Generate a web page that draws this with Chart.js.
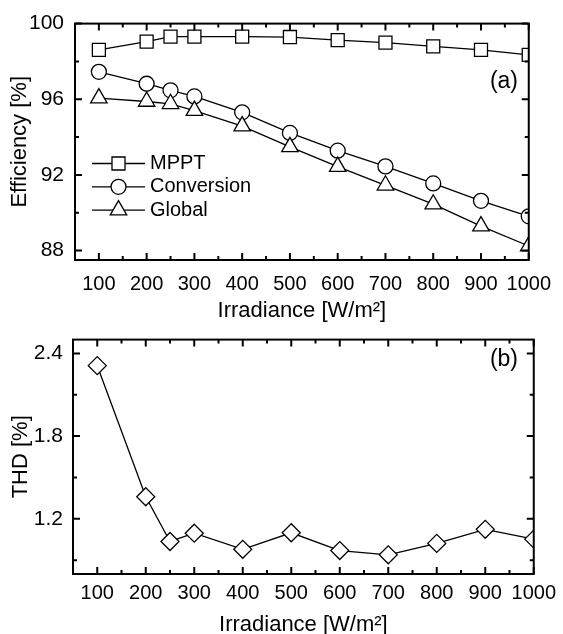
<!DOCTYPE html>
<html>
<head>
<meta charset="utf-8">
<script src="https://cdn.jsdelivr.net/npm/chart.js@4.4.1/dist/chart.umd.min.js"></script>
<style>
    html, body { margin: 0; padding: 0; background: #fff; }
    #wrap { position: relative; width: 563px; height: 634px; overflow: hidden; }
    .panel { position: absolute; left: 0; }
</style>
</head>
<body>
<div id="wrap">
    <canvas id="effChart" class="panel" style="top:0" width="563" height="322"></canvas>
    <canvas id="thdChart" class="panel" style="top:317px" width="563" height="320"></canvas>
</div>
<script>
// values
const irradiance = [100, 200, 250, 300, 400, 500, 600, 700, 800, 900, 1000];
const mpptEff = [98.61, 99.05, 99.31, 99.31, 99.31, 99.29, 99.13, 98.99, 98.80, 98.61, 98.35];
const conversionEff = [97.45, 96.82, 96.47, 96.15, 95.31, 94.22, 93.28, 92.45, 91.55, 90.63, 89.81];
const globalEff = [96.06, 95.88, 95.76, 95.40, 94.58, 93.48, 92.44, 91.45, 90.45, 89.29, 88.24];
const thd = [2.311, 1.360, 1.036, 1.096, 0.979, 1.099, 0.970, 0.939, 1.022, 1.124, 1.053];

// tick labels
const xTickLabels = [100, 200, 300, 400, 500, 600, 700, 800, 900, 1000];
const xMinorTicks = [150, 250, 350, 450, 550, 650, 750, 850, 950];
const effTickLabels = [88, 92, 96, 100];
const effMinorTicks = [90, 94, 98];
const thdTickLabels = [1.2, 1.8, 2.4];
const thdMinorTicks = [0.9, 1.5, 2.1];

const FONT = "'Liberation Sans', Arial, sans-serif";

const toPoints = vals => vals.map((v, i) => ({x: irradiance[i], y: v}));

// box around the plot with inward ticks on all four sides
const framePlugin = {
    id: 'frame',
    afterDatasetsDraw(chart, args, opts) {
        const {ctx, chartArea: a} = chart;
        const xs = chart.scales.x, ys = chart.scales.y;
        ctx.save();
        ctx.strokeStyle = '#000';
        ctx.lineWidth = 2;
        ctx.beginPath();
        const xTick = (v, len) => {
            const px = xs.getPixelForValue(v);
            ctx.moveTo(px, a.bottom); ctx.lineTo(px, a.bottom - len);
            ctx.moveTo(px, a.top); ctx.lineTo(px, a.top + len);
        };
        const yTick = (v, len) => {
            const py = ys.getPixelForValue(v);
            ctx.moveTo(a.left, py); ctx.lineTo(a.left + len, py);
            ctx.moveTo(a.right, py); ctx.lineTo(a.right - len, py);
        };
        opts.xMajor.forEach(v => xTick(v, 7));
        opts.xMinor.forEach(v => xTick(v, 4));
        opts.yMajor.forEach(v => yTick(v, 7));
        opts.yMinor.forEach(v => yTick(v, 4));
        ctx.stroke();
        ctx.strokeRect(a.left, a.top, a.right - a.left, a.bottom - a.top);
        ctx.restore();
    }
};

// legend drawn inside the plot: line - marker - line, then label
const insideLegend = {
    id: 'insideLegend',
    afterDraw(chart, args, opts) {
        if (!opts.show) return;
        const ctx = chart.ctx;
        ctx.save();
        chart.data.datasets.forEach((ds, i) => {
            const y = opts.top + i * opts.rowGap;
            const mid = opts.left + opts.lineLen / 2;
            ctx.strokeStyle = '#000';
            ctx.lineWidth = ds.borderWidth;
            ctx.beginPath();
            ctx.moveTo(opts.left, y);
            ctx.lineTo(opts.left + opts.lineLen, y);
            ctx.stroke();
            ctx.fillStyle = '#fff';
            ctx.lineWidth = ds.pointBorderWidth;
            Chart.helpers.drawPoint(ctx, {pointStyle: ds.pointStyle, radius: ds.pointRadius, borderWidth: ds.pointBorderWidth, rotation: 0}, mid, y);
            ctx.fillStyle = '#000';
            ctx.font = '20px ' + FONT;
            ctx.textBaseline = 'middle';
            ctx.textAlign = 'left';
            ctx.fillText(ds.label, opts.left + opts.lineLen + opts.gap, y);
        });
        ctx.restore();
    }
};

// "(a)" / "(b)" tag
const panelTag = {
    id: 'panelTag',
    afterDraw(chart, args, opts) {
        const ctx = chart.ctx;
        ctx.save();
        ctx.fillStyle = '#000';
        ctx.font = '23px ' + FONT;
        ctx.textAlign = 'right';
        ctx.textBaseline = 'middle';
        ctx.fillText(opts.text, opts.x, opts.y);
        ctx.restore();
    }
};

function seriesStyle(label, data, style, radius, order) {
    return {
        label: label,
        data: toPoints(data),
        borderColor: '#000',
        borderWidth: 1.3,
        pointStyle: style,
        pointRadius: radius,
        pointHoverRadius: radius,
        pointBackgroundColor: '#fff',
        pointBorderColor: '#000',
        pointBorderWidth: 1.3,
        tension: 0,
        clip: 0,
        order: order
    };
}

function axisOptions(cfg) {
    return {
        x: {
            type: 'linear',
            min: 50,
            max: 1000,
            afterBuildTicks: s => { s.ticks = xTickLabels.map(v => ({value: v})); },
            afterFit: s => { s.height = cfg.xHeight; },
            grid: {display: false, drawTicks: false},
            border: {display: false},
            ticks: {color: '#000', font: {family: FONT, size: 20}, padding: cfg.xPad, autoSkip: false, maxRotation: 0, callback: v => String(v)},
            title: {display: true, text: 'Irradiance [W/m²]', color: '#000', font: {family: FONT, size: 22, lineHeight: 1}, padding: {top: 0, bottom: cfg.titlePad}}
        },
        y: {
            type: 'linear',
            min: cfg.yMin,
            max: cfg.yMax,
            afterBuildTicks: s => { s.ticks = cfg.yTicks.map(v => ({value: v})); },
            afterFit: s => { s.width = cfg.yWidth; },
            grid: {display: false, drawTicks: false},
            border: {display: false},
            ticks: {color: '#000', font: {family: FONT, size: 21}, padding: cfg.yPad, callback: cfg.yFmt},
            title: {display: true, text: cfg.yTitle, color: '#000', font: {family: FONT, size: 22, lineHeight: 1}, padding: {top: cfg.yTitlePad, bottom: 0}}
        }
    };
}

// (a) efficiency
new Chart(document.getElementById('effChart'), {
    type: 'line',
    data: {
        datasets: [
            seriesStyle('MPPT', mpptEff, 'rect', 9.2, 2),
            seriesStyle('Conversion', conversionEff, 'circle', 7.5, 1),
            seriesStyle('Global', globalEff, 'triangle', 9.5, 0)
        ]
    },
    options: {
        responsive: false,
        animation: false,
        layout: {padding: {left: 0, top: 20, right: 26, bottom: 0}},
        scales: axisOptions({
            xHeight: 62, xPad: 12, titlePad: 0,
            yMin: 87.5, yMax: 100, yTicks: effTickLabels, yWidth: 75, yPad: 11,
            yFmt: v => String(v), yTitle: 'Efficiency [%]', yTitlePad: 9
        }),
        plugins: {
            legend: {display: false},
            tooltip: {enabled: false},
            frame: {xMajor: xTickLabels, xMinor: xMinorTicks, yMajor: effTickLabels, yMinor: effMinorTicks},
            insideLegend: {show: true, left: 92, top: 163.5, rowGap: 23.3, lineLen: 53, gap: 5},
            panelTag: {text: '(a)', x: 518, y: 82}
        }
    },
    plugins: [framePlugin, insideLegend, panelTag]
});

// (b) THD
new Chart(document.getElementById('thdChart'), {
    type: 'line',
    data: {
        datasets: [
            seriesStyle('THD', thd, 'rectRot', 9, 0)
        ]
    },
    options: {
        responsive: false,
        animation: false,
        layout: {padding: {left: 0, top: 17, right: 27, bottom: 0}},
        scales: axisOptions({
            xHeight: 63, xPad: 7, titlePad: 1,
            yMin: 0.8, yMax: 2.5, yTicks: thdTickLabels, yWidth: 73, yPad: 10,
            yFmt: v => v.toFixed(1), yTitle: 'THD [%]', yTitlePad: 10
        }),
        plugins: {
            legend: {display: false},
            tooltip: {enabled: false},
            frame: {xMajor: xTickLabels, xMinor: xMinorTicks, yMajor: thdTickLabels, yMinor: thdMinorTicks},
            insideLegend: {show: false},
            panelTag: {text: '(b)', x: 518, y: 43}
        }
    },
    plugins: [framePlugin, insideLegend, panelTag]
});
</script>
</body>
</html>
